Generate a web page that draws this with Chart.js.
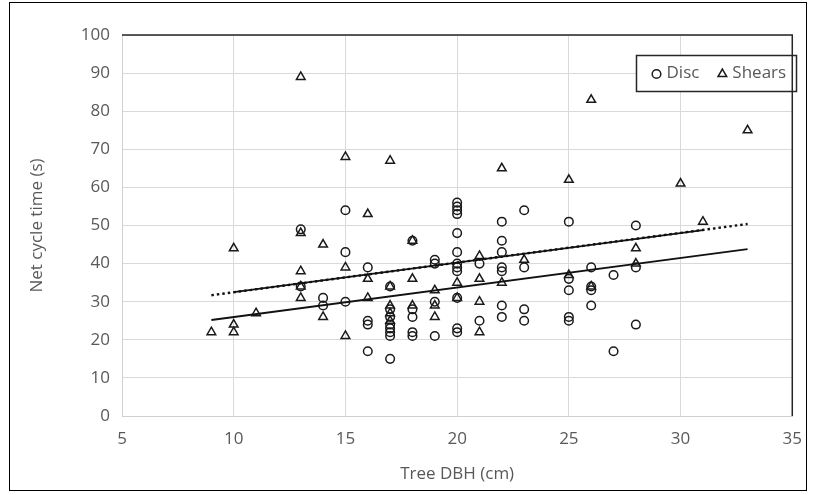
<!DOCTYPE html>
<html>
<head>
<meta charset="utf-8">
<script src="https://cdn.jsdelivr.net/npm/chart.js@4"></script>
<style>
  html, body { margin: 0; padding: 0; background: #fff; }
  #wrap { width: 815px; height: 495px; }
</style>
</head>
<body>
<div id="wrap"><canvas id="chart" width="815" height="495"></canvas></div>
<script>
// Disc: tree DBH (cm) and net cycle time (s)
const discDbh = [13, 13, 14, 14, 15, 15, 15, 16, 16, 16, 16,
    17, 17, 17, 17, 17, 17, 17, 17, 18, 18, 18, 18, 18,
    19, 19, 19, 19, 20, 20, 20, 20, 20, 20, 20, 20, 20, 20, 20, 20,
    21, 21, 22, 22, 22, 22, 22, 22, 22, 23, 23, 23, 23,
    25, 25, 25, 25, 25, 26, 26, 26, 26, 27, 27, 28, 28, 28];
const discTime = [49, 34, 31, 29, 54, 43, 30, 39, 25, 24, 17,
    34, 28, 26, 24, 23, 22, 21, 15, 46, 28, 26, 22, 21,
    41, 40, 30, 21, 56, 55, 54, 53, 48, 43, 40, 39, 38, 31, 23, 22,
    40, 25, 51, 46, 43, 39, 38, 29, 26, 54, 39, 28, 25,
    51, 36, 33, 26, 25, 39, 34, 33, 29, 37, 17, 50, 39, 24];

// Shears
const shearsDbh = [9, 10, 10, 10, 11, 13, 13, 13, 13, 13, 14, 14,
    15, 15, 15, 16, 16, 16, 17, 17, 17, 17, 17, 18, 18, 18,
    19, 19, 19, 20, 20, 21, 21, 21, 21, 22, 22, 23,
    25, 25, 26, 26, 28, 28, 30, 31, 33];
const shearsTime = [22, 44, 24, 22, 27, 89, 48, 38, 34, 31, 45, 26,
    68, 39, 21, 53, 36, 31, 67, 34, 29, 27, 25, 46, 36, 29,
    33, 29, 26, 35, 31, 42, 36, 30, 22, 65, 35, 41,
    62, 37, 83, 34, 44, 40, 61, 51, 75];

// trend lines (end points as drawn)
const trendDbh = [9, 33];
const trendLower = [25.2, 43.8];
const trendUpper = [31.7, 50.4];
const trendUpperSolidDbh = [10, 31];
const trendUpperSolid = [32.5, 48.8];

const xTicks = [5, 10, 15, 20, 25, 30, 35];

const FONT = "'Open Sans', 'DejaVu Sans', sans-serif";
const TEXT = '#595959';
const INK = '#1a1a1a';

function pairs(xs, ys) {
    return xs.map((x, i) => ({ x, y: ys[i] }));
}

const markerStyle = {
    showLine: false,
    backgroundColor: 'rgba(0,0,0,0)',
    borderColor: INK,
    borderWidth: 1.5,
    order: 1,
};

const lineStyle = {
    showLine: true,
    pointRadius: 0,
    borderColor: '#111',
    borderWidth: 1.8,
    fill: false,
    order: 0,
    inLegend: false,
};

// legend box drawn inside the plot, like the original
const boxLegend = {
    id: 'boxLegend',
    afterDraw(chart) {
        const ctx = chart.ctx;
        const left = 636.5, top = 55.5, w = 160, h = 36;
        ctx.save();
        ctx.fillStyle = '#fff';
        ctx.fillRect(left, top, w, h);
        ctx.strokeStyle = '#262626';
        ctx.lineWidth = 1.5;
        ctx.strokeRect(left, top, w, h);
        ctx.font = '17px ' + FONT;
        ctx.textBaseline = 'middle';
        let x = left + 20;
        const y = top + h / 2;
        chart.data.datasets.forEach((ds) => {
            if (ds.inLegend === false) return;
            ctx.fillStyle = 'rgba(0,0,0,0)';
            ctx.strokeStyle = INK;
            ctx.lineWidth = ds.borderWidth;
            Chart.helpers.drawPoint(ctx, {
                pointStyle: ds.pointStyle,
                radius: ds.pointRadius,
                borderWidth: ds.borderWidth,
            }, x, y + 0.5);
            ctx.fillStyle = TEXT;
            ctx.fillText(ds.label, x + 10, y);
            x += 10 + ctx.measureText(ds.label).width + 23;
        });
        ctx.restore();
    },
};

// dark top/right edges of the plot and the outer frame
const frame = {
    id: 'frame',
    afterDraw(chart) {
        const { ctx, chartArea: a } = chart;
        ctx.save();
        ctx.strokeStyle = '#262626';
        ctx.lineWidth = 1.5;
        ctx.beginPath();
        ctx.moveTo(a.left, a.top);
        ctx.lineTo(a.right, a.top);
        ctx.lineTo(a.right, a.bottom);
        ctx.stroke();
        ctx.lineWidth = 1;
        ctx.strokeStyle = '#000';
        ctx.strokeRect(9.5, 2.5, 797, 488);
        ctx.restore();
    },
};

new Chart(document.getElementById('chart'), {
    type: 'scatter',
    data: {
        datasets: [
            { ...markerStyle, label: 'Disc', data: pairs(discDbh, discTime), pointStyle: 'circle', pointRadius: 4.3 },
            { ...markerStyle, label: 'Shears', data: pairs(shearsDbh, shearsTime), pointStyle: 'triangle', pointRadius: 5 },
            { ...lineStyle, label: 'Disc trend', data: pairs(trendDbh, trendLower) },
            { ...lineStyle, label: 'Shears trend', data: pairs(trendDbh, trendUpper), borderDash: [2.5, 3], borderWidth: 2.4 },
            { ...lineStyle, label: 'Shears fit', data: pairs(trendUpperSolidDbh, trendUpperSolid) },
        ],
    },
    options: {
        responsive: false,
        animation: false,
        devicePixelRatio: 1,
        layout: { padding: { left: 0, right: 22, top: 35, bottom: 0 } },
        plugins: {
            legend: { display: false },
            tooltip: { enabled: false },
        },
        scales: {
            x: {
                type: 'linear',
                min: 5,
                max: 35,
                afterBuildTicks: (scale) => { scale.ticks = xTicks.map((v) => ({ value: v })); },
                afterFit: (scale) => { scale.height = 79; },
                grid: { color: '#d9d9d9', drawTicks: false },
                border: { color: '#d0d0d0' },
                ticks: { color: TEXT, font: { family: FONT, size: 17 }, padding: 13 },
                title: {
                    display: true,
                    text: 'Tree DBH (cm)',
                    color: TEXT,
                    font: { family: FONT, size: 17 },
                    padding: { top: 0, bottom: 11 },
                },
            },
            y: {
                min: 0,
                max: 100,
                afterFit: (scale) => { scale.width = 122; },
                grid: { color: '#d9d9d9', drawTicks: false },
                border: { color: '#d0d0d0' },
                ticks: { stepSize: 10, color: TEXT, font: { family: FONT, size: 17 }, padding: 12 },
                title: {
                    display: true,
                    text: 'Net cycle time (s)',
                    color: TEXT,
                    font: { family: FONT, size: 17 },
                    padding: { top: 27, bottom: 0 },
                },
            },
        },
    },
    plugins: [boxLegend, frame],
});
</script>
</body>
</html>
